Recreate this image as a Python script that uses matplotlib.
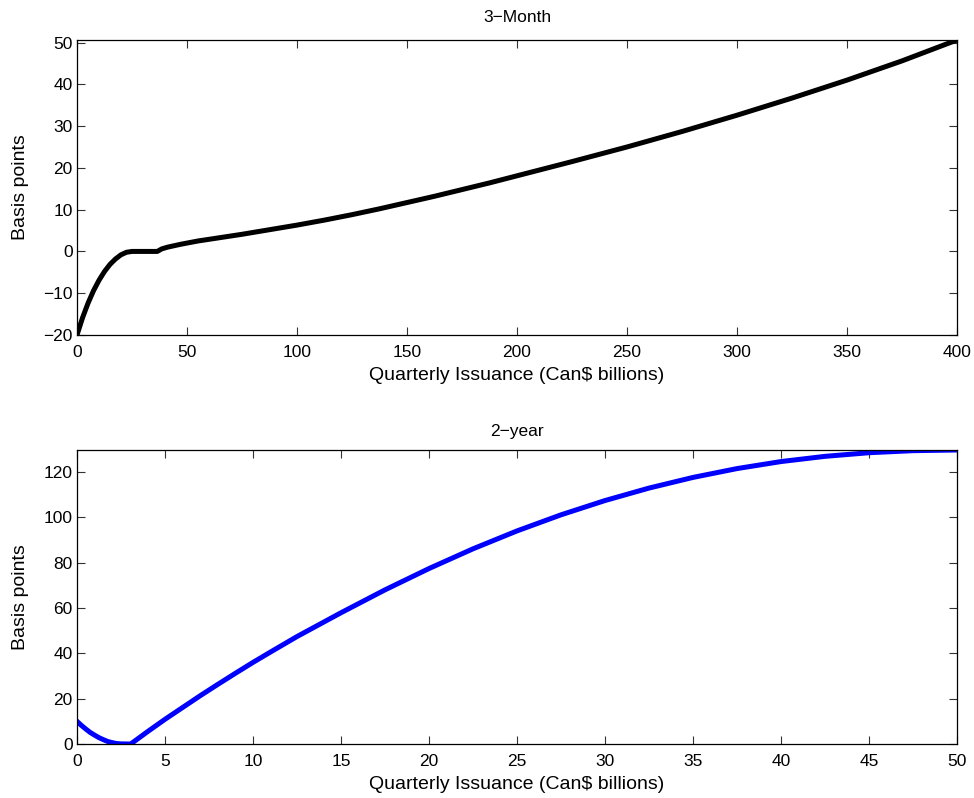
import matplotlib
matplotlib.use("Agg")
import matplotlib.pyplot as plt
from matplotlib.ticker import MultipleLocator

plt.rcParams['font.family'] = ['Liberation Sans', 'DejaVu Sans']

# 3-Month panel
x3m = [0, 2.5, 5, 7.5, 10, 12.5, 15, 17.5, 20, 22.5, 25, 36.5, 38.5, 41, 47,
       55, 65, 75, 87.5, 100, 112.5, 125, 137.5, 150, 162.5, 175, 187.5, 200,
       225, 250, 275, 300, 325, 350, 375, 400]
y3m = [-20, -15.9, -12.4, -9.4, -6.9, -4.8, -3.1, -1.8, -0.8, -0.2, 0, 0, 0.6, 1.0, 1.7,
       2.5, 3.3, 4.1, 5.2, 6.3, 7.5, 8.8, 10.2, 11.7, 13.2, 14.8, 16.4, 18.1,
       21.5, 25.0, 28.7, 32.6, 36.7, 41.0, 45.6, 50.6]

# 2-year panel
x2y = [0, 0.25, 0.5, 0.75, 1, 1.25, 1.5, 1.75, 2, 2.25, 2.5, 3.05, 4, 5, 6, 7, 8, 9, 10,
       11, 12.5, 15, 17.5, 20, 22.5, 25, 27.5, 30, 32.5, 35, 37.5, 40, 42.5, 45, 47.5, 50]
y2y = [10, 8.2, 6.6, 5.1, 3.9, 2.8, 1.9, 1.1, 0.6, 0.2, 0.05, 0, 5.4, 10.9, 16.1, 21.3,
       26.3, 31.2, 36.0, 40.6, 47.4, 57.9, 68.0, 77.4, 86.1, 94.0, 101.1, 107.4, 112.9,
       117.6, 121.5, 124.6, 126.9, 128.5, 129.4, 129.7]

xlabel = "Quarterly Issuance (Can\\$ billions)"
ylabel = "Basis points"

fig = plt.figure(figsize=(9.74, 7.98), dpi=100)
ax1 = fig.add_axes([77/974, 1-335/798, (957-77)/974, (335-40)/798])
ax2 = fig.add_axes([77/974, 1-744/798, (957-77)/974, (744-450)/798])

ax1.plot(x3m, y3m, color='black', lw=3.6, solid_joinstyle='round')
ax1.set_xlim(0, 400)
ax1.set_ylim(min(y3m), max(y3m))
ax1.xaxis.set_major_locator(MultipleLocator(50))
ax1.yaxis.set_major_locator(MultipleLocator(10))
ax1.set_title("3\u2212Month", fontsize=12.5, pad=13)

ax2.plot(x2y, y2y, color=(0, 0, 1), lw=3.6, solid_joinstyle='round')
ax2.set_xlim(0, 50)
ax2.set_ylim(min(y2y), max(y2y))
ax2.xaxis.set_major_locator(MultipleLocator(5))
ax2.yaxis.set_major_locator(MultipleLocator(20))
ax2.set_title("2\u2212year", fontsize=12.5, pad=10)

for ax in (ax1, ax2):
    ax.set_xlabel(xlabel, fontsize=14, labelpad=5)
    ax.set_ylabel(ylabel, fontsize=14)
    ax.yaxis.set_label_coords(-0.055, 0.5)
    ax.tick_params(direction='in', length=6, width=0.8, top=True, right=True,
                   labelsize=12.5, pad=3, color='#333333')
    ax.tick_params(axis='x', pad=7)
    for s in ax.spines.values():
        s.set_linewidth(0.9)

fig.savefig("out.png", dpi=100)
